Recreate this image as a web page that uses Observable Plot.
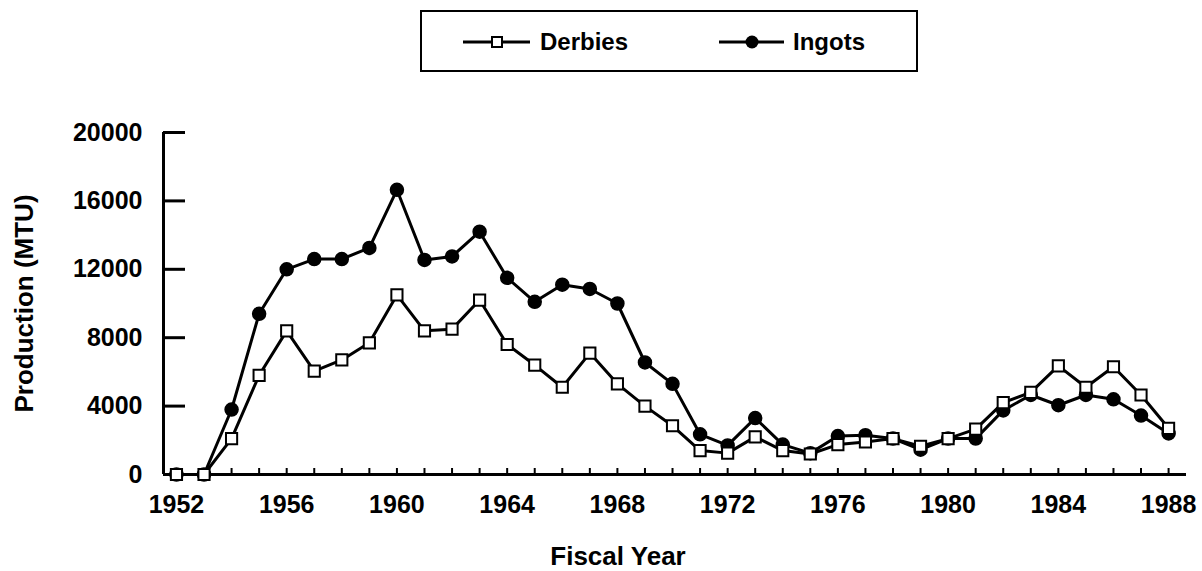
<!DOCTYPE html>
<html><head><meta charset="utf-8">
<script src="https://cdn.jsdelivr.net/npm/d3@7"></script>
<script src="https://cdn.jsdelivr.net/npm/@observablehq/plot@0.6"></script>
<style>
body{margin:0;background:#fff;font-family:"Liberation Sans",Arial,Helvetica,sans-serif;}
#wrap{position:relative;width:1202px;height:571px;background:#fff;}
#legend{position:absolute;left:420px;top:10px;width:494px;height:58px;border:2px solid #000;}
#chart{position:absolute;left:0;top:80px;}
</style></head><body>
<div id="wrap"><div id="legend"></div><div id="chart"></div></div>
<script>
const years = [1952,1953,1954,1955,1956,1957,1958,1959,1960,1961,1962,1963,1964,1965,1966,1967,1968,1969,1970,1971,1972,1973,1974,1975,1976,1977,1978,1979,1980,1981,1982,1983,1984,1985,1986,1987,1988];
const derbies = [0,0,2100,5800,8400,6050,6700,7700,10500,8400,8500,10200,7600,6400,5100,7100,5300,4000,2850,1400,1250,2200,1400,1200,1750,1900,2100,1650,2100,2650,4200,4800,6350,5100,6300,4650,2700];
const ingots = [0,0,3800,9400,12000,12600,12600,13250,16650,12550,12750,14200,11500,10100,11100,10850,10000,6550,5300,2350,1700,3300,1750,1250,2250,2300,2100,1450,2100,2100,3750,4650,4050,4650,4400,3450,2400];
const seriesNames = ["Derbies","Ingots"];
const yTicks = [0,4000,8000,12000,16000,20000];
const xLabelTicks = [1952,1956,1960,1964,1968,1972,1976,1980,1984,1988];
const xDomain = [1951.53, 1988.65];
const yDomain = [0, 20000];
const xTitle = "Fiscal Year";
const yTitle = "Production (MTU)";

const rows = years.map((y,i)=>({year:y, d:derbies[i], g:ingots[i]}));
const font = "'Liberation Sans', Arial, Helvetica, sans-serif";

const plot = Plot.plot({
  width:1202, height:491,
  marginTop:52, marginBottom:97, marginLeft:163, marginRight:16,
  style:{fontFamily:font, fontSize:"25px", fontWeight:"bold", color:"#000", background:"#fff", overflow:"visible"},
  x:{domain:xDomain, label:null},
  y:{domain:yDomain, label:null},
  marks:[
    Plot.axisY({ticks:yTicks, tickSize:-22, tickPadding:43, strokeWidth:3, tickFormat:d=>String(d), label:null}),
    Plot.axisX({ticks:years, tickSize:-6, tickFormat:()=>"", strokeWidth:2, label:null}),
    Plot.axisX({ticks:xLabelTicks, tickSize:0, tickPadding:21, tickFormat:d=>String(d), label:null}),
    Plot.ruleX([xDomain[0]], {strokeWidth:3}),
    Plot.ruleY([0], {strokeWidth:3}),
    Plot.line(rows,{x:"year",y:"g",strokeWidth:3}),
    Plot.line(rows,{x:"year",y:"d",strokeWidth:3}),
    Plot.dot(rows,{x:"year",y:"g",r:6.5,fill:"#000",stroke:"#000"}),
    Plot.dot(rows,{x:"year",y:"d",symbol:"square",r:6.3,fill:"#fff",stroke:"#000",strokeWidth:2}),
    Plot.text([yTitle],{text:d=>d, frameAnchor:"left", rotate:-90, textAnchor:"middle", lineAnchor:"middle", dx:-139, fontSize:26, fontWeight:"bold"}),
    Plot.text([xTitle],{text:d=>d, frameAnchor:"bottom", textAnchor:"middle", lineAnchor:"middle", dy:82, dx:-57, fontSize:26, fontWeight:"bold"})
  ]
});
document.getElementById("chart").appendChild(plot);

// legend
const lg = d3.select("#legend").append("svg").attr("width",494).attr("height",58)
  .style("position","absolute").style("left","0").style("top","0");
const items = [
  {name:seriesNames[0], x0:41, x1:108, mx:75, tx:118, sym:"square"},
  {name:seriesNames[1], x0:297, x1:362, mx:330, tx:371, sym:"circle"}
];
items.forEach(it=>{
  lg.append("line").attr("x1",it.x0).attr("x2",it.x1).attr("y1",30).attr("y2",30).attr("stroke","#000").attr("stroke-width",3);
  if(it.sym==="square"){
    lg.append("rect").attr("x",it.mx-5).attr("y",25).attr("width",10).attr("height",10).attr("fill","#fff").attr("stroke","#000").attr("stroke-width",2);
  } else {
    lg.append("circle").attr("cx",it.mx).attr("cy",30).attr("r",6.5).attr("fill","#000");
  }
  lg.append("text").attr("x",it.tx).attr("y",38).attr("font-family",font).attr("font-size",24).attr("font-weight","bold").text(it.name);
});
</script>
</body></html>
